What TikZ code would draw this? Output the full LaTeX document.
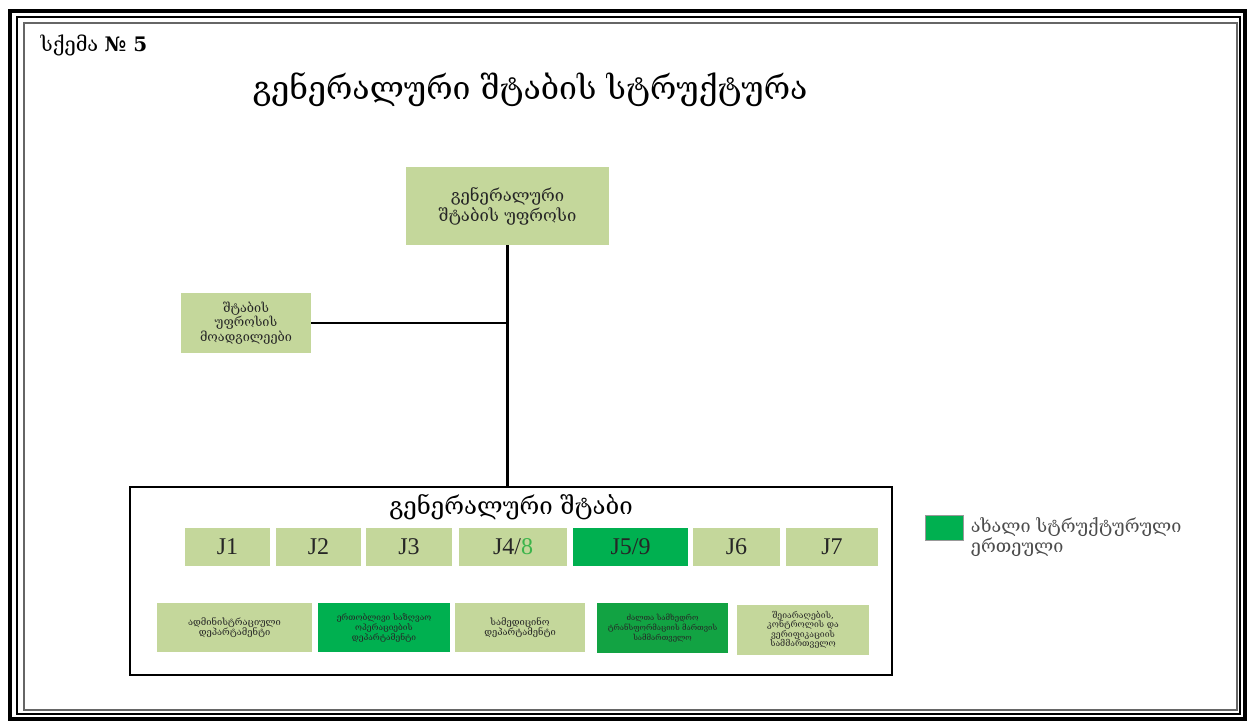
\documentclass[tikz,border=0pt]{standalone}
\usepackage{fontspec}
\setmainfont{Liberation Serif}
\newfontfamily\geo{DejaVu Serif}
\usetikzlibrary{calc}
\definecolor{oldgreen}{HTML}{C4D79B}
\definecolor{newgreen}{HTML}{00B050}
\definecolor{deepgreen}{HTML}{12A343}
\definecolor{jgreen}{HTML}{3CB44B}

\tikzset{
	unit/.style={fill=oldgreen, inner sep=1pt, align=center, text=black!85},
	jbox/.style={unit, minimum height=28.5, font=\fontsize{18}{18}\selectfont},
	dept/.style={unit, font=\geo\fontsize{7}{8}\selectfont},
	link/.style={line width=1.6}
}

\begin{document}
\begin{tikzpicture}[x=0.75pt,y=-0.75pt]
		\useasboundingbox (0,0) rectangle (1249,722);
%		frame
		\draw[line width=3.5] (10,11) rectangle (1245,719);
		\draw[line width=1.2] (17,17) rectangle (1240,714);
		\draw[black!60,line width=2.2] (24,23) rectangle (1237,710);

%		titles
		\node[anchor=west, font=\geo\fontsize{15}{17}\selectfont] (scheme) at (36,45)
		{სქემა \textbf{№ 5}};
		\node[font=\geo\fontsize{24}{28}\selectfont] (title) at (530,90)
		{გენერალური შტაბის სტრუქტურა};

%		chief and deputies
		\node[unit, minimum width=152, minimum height=58.5,
		font=\geo\fontsize{12.5}{15}\selectfont] (chief) at (507.5,206)
		{გენერალური\\შტაბის უფროსი};
		\node[unit, minimum width=97.5, minimum height=45,
		font=\geo\fontsize{9.5}{11}\selectfont] (deputy) at (246,323)
		{შტაბის\\უფროსის\\მოადგილეები};

%		general staff
		\node[draw, line width=1.6, minimum width=571.5, minimum height=141,
		inner sep=0pt] (staff) at (511,581) {};
		\node[font=\geo\fontsize{18}{20}\selectfont] (stafftitle) at (511,507)
		{გენერალური შტაბი};

		\coordinate (fork) at (chief.south |- deputy.east);
		\draw[link] (chief.south) -- (fork);
		\draw[link] (fork) -- (staff.north -| chief.south);
		\draw[link] (deputy.east) -- (fork);

%		J row
		\node[jbox, minimum width=63.75] (j1) at (227.5,547) {J1};
		\node[jbox, minimum width=63.75] (j2) at (318.5,547) {J2};
		\node[jbox, minimum width=64.5] (j3) at (409,547) {J3};
		\node[jbox, minimum width=81] (j48) at (513,547) {J4/\textcolor{jgreen}{8}};
		\node[jbox, minimum width=86.25, fill=newgreen] (j59) at (630.5,547) {J5/9};
		\node[jbox, minimum width=65.25] (j6) at (736.5,547) {J6};
		\node[jbox, minimum width=69] (j7) at (832,547) {J7};

%		departments
		\node[dept, minimum width=116, minimum height=37] (admin) at (234.5,627.5)
		{ადმინისტრაციული\\დეპარტამენტი};
		\node[dept, minimum width=99, minimum height=37, fill=newgreen,
		font=\geo\fontsize{6.3}{7.5}\selectfont] (joint) at (384,627.5)
		{ერთობლივი საზღვაო\\ოპერაციების\\დეპარტამენტი};
		\node[dept, minimum width=97.5, minimum height=37] (med) at (520,627.5)
		{სამედიცინო\\დეპარტამენტი};
		\node[dept, minimum width=98, minimum height=37, fill=deepgreen,
		font=\geo\fontsize{5.8}{7.5}\selectfont] (transf) at (662.5,628)
		{ძალთა სამხედრო\\ტრანსფორმაციის მართვის\\სამმართველო};
		\node[dept, minimum width=99, minimum height=37,
		font=\geo\fontsize{6.5}{7}\selectfont] (arms) at (803,630)
		{შეიარაღების,\\კონტროლის და\\ვერიფიკაციის\\სამმართველო};

%		legend
		\node[fill=newgreen, draw=black!40, minimum width=28.5, minimum height=18.75,
		inner sep=0pt] (key) at (944,527.5) {};
		\node[anchor=north west, align=left, text=black!70,
		font=\geo\fontsize{13.5}{15}\selectfont] (keytext) at ($(key.north east)+(3,-2)$)
		{ახალი სტრუქტურული\\ერთეული};
\end{tikzpicture}
\end{document}
